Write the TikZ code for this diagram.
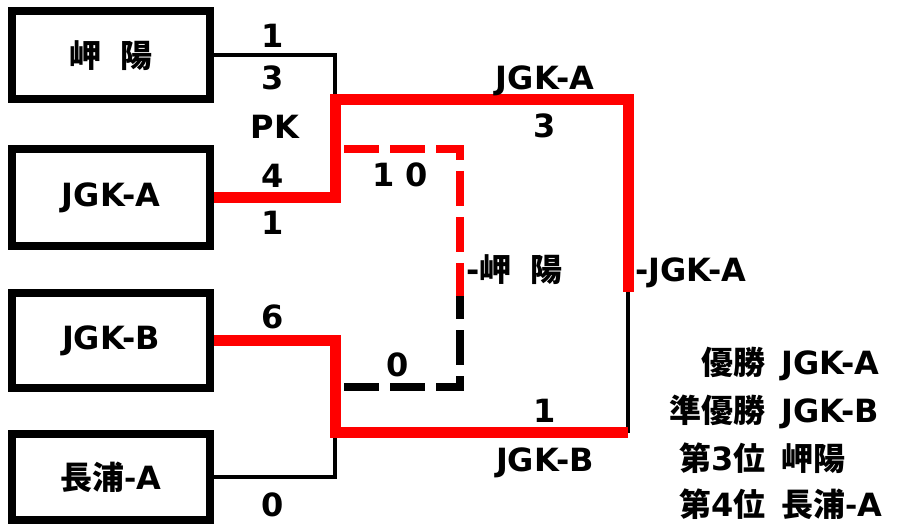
\documentclass[tikz,border=0pt]{standalone}
\usepackage{fontspec}
\setmainfont{DejaVu Sans}
\newfontfamily\jp{Noto Sans CJK JP}
\usetikzlibrary{positioning}
\newcommand\jtxt[1]{{\jp #1}}

\begin{document}
\begin{tikzpicture}[x=1pt, y=-1pt, font=\fontsize{32}{36}\selectfont\bfseries,
  team/.style={draw, line width=8pt, minimum width=198.5pt, inner sep=0pt},
  lbl/.style={inner sep=0pt, text height=23pt, text depth=0pt},
  win/.style={draw=red, line width=11pt},
  lose/.style={draw=black, line width=4pt},
  semi/.style={line width=8pt, dash pattern=on 35pt off 11pt}]
\useasboundingbox (0,0) rectangle (900,526);
% teams
\node[team, minimum height=88.5pt] (misaki) at (111,55.25) {\jtxt{岬\hspace{.6em}陽}};
\node[team, minimum height=97pt] (jgka) at (111,198) {JGK-A};
\node[team, minimum height=95pt] (jgkb) at (111,340.5) {JGK-B};
\node[team, minimum height=86pt] (nagaura) at (111,477) {\jtxt{長浦-}A};
% junctions
\coordinate (j1) at (335,100);
\coordinate (j2) at (335,433);
\coordinate (fa) at (628,100);
\coordinate (fm) at (628,292);
\coordinate (fb) at (628,433);
\coordinate (sa) at (344,149);
\coordinate (sb) at (460,149);
\coordinate (sm) at (460,296);
\coordinate (sc) at (460,387);
\coordinate (sd) at (344,387);
% bracket
\draw[lose] (misaki.east) -| (j1);
\draw[lose] (nagaura.east) -| (j2);
\draw[lose] (fm) -- (fb);
\draw[win] (jgka.east) -| (j1) -- (fa) -- (fm);
\draw[win] (jgkb.east) -| (j2) -- (fb);
\draw[semi, red] (sa) -- (sb) -- (sm);
\draw[semi] (sd) -- (sc) -- (sm);
% scores
\node[lbl] (s1) at (273,36) {1};
\node[lbl] (s2) at (273,78) {3};
\node[lbl] (pk) at (275,127) {PK};
\node[lbl] (s3) at (273,176) {4};
\node[lbl] (s4) at (273,223) {1};
\node[lbl] (s5) at (273,317) {6};
\node[lbl] (s6) at (273,505) {0};
\node[lbl] (wa) at (545,78) {JGK-A};
\node[lbl] (s7) at (545,126) {3};
\node[lbl] (s8) at (400,175) {1 0};
\node[lbl] (s9) at (398,365) {0};
\node[lbl] (s10) at (545,411) {1};
\node[lbl] (wb) at (545,460) {JGK-B};
\node[lbl, anchor=west] (third) at (466,270) {-\jtxt{岬\hspace{.6em}陽}};
\node[lbl, anchor=west] (champ) at (635,270) {-JGK-A};
% results
\node[lbl, anchor=east] (r1) at (766,363) {\jtxt{優勝}};
\node[lbl, anchor=west] (n1) at (781,363) {JGK-A};
\node[lbl, anchor=east] (r2) at (766,411) {\jtxt{準優勝}};
\node[lbl, anchor=west] (n2) at (781,411) {JGK-B};
\node[lbl, anchor=east] (r3) at (766,459) {\jtxt{第}3\jtxt{位}};
\node[lbl, anchor=west] (n3) at (781,459) {\jtxt{岬陽}};
\node[lbl, anchor=east] (r4) at (766,505) {\jtxt{第}4\jtxt{位}};
\node[lbl, anchor=west] (n4) at (781,505) {\jtxt{長浦-}A};
\end{tikzpicture}
\end{document}
